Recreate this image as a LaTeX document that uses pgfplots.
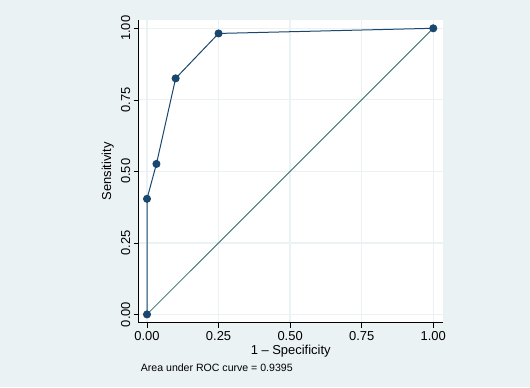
\documentclass[border=0pt]{standalone}
\usepackage{fontspec}
\setmainfont{Liberation Sans}
\usepackage{pgfplots}
\pgfplotsset{compat=1.18}
\definecolor{bgcol}{HTML}{EAF2F3}
\definecolor{navy}{HTML}{1A476F}
\definecolor{tealline}{HTML}{2E6E68}
\begin{document}
\begin{tikzpicture}[x=1bp,y=1bp]
\fill[bgcol] (-138.7,-64.3) rectangle (391.3,322.7);
\begin{axis}[
  at={(0,0)}, anchor=south west,
  scale only axis, width=304bp, height=302.7bp,
  xmin=-0.029, xmax=1.033, ymin=-0.029, ymax=1.029,
  axis background/.style={fill=white},
  axis x line*=bottom, axis y line*=left,
  axis line style={black, line width=0.8bp},
  xtick={0,0.25,0.5,0.75,1}, ytick={0,0.25,0.5,0.75,1},
  /pgf/number format/.cd, fixed, fixed zerofill, precision=2, assume math mode=true, /pgfplots/.cd,
  grid=major, major grid style={color=bgcol, line width=1.3bp},
  tick align=outside, major tick length=5bp,
  tick style={black, line width=0.6bp},
  ticklabel style={font=\fontsize{13}{13}\selectfont},
  yticklabel style={rotate=90, anchor=south},
  label style={font=\fontsize{13}{13}\selectfont},
  xlabel={1 -- Specificity}, ylabel={Sensitivity},
  xlabel style={at={(axis description cs:0.5,-0.1034)}, anchor=base},
  ylabel style={at={(axis description cs:-0.0911,0.5)}, anchor=base},
  clip=false,
]
\addplot[tealline, line width=0.8bp] coordinates {(0,0) (1,1)};
\addplot[navy, line width=1bp, mark=*, mark size=3.5bp, mark options={fill=navy, draw=navy}]
  coordinates {(0,0) (0,0.404) (0.033,0.526) (0.1,0.825) (0.25,0.982) (1,1)};
\end{axis}
\node[anchor=base west, inner sep=0pt, font=\fontsize{10.6}{10.6}\selectfont] at (2,-49) {Area under ROC curve = 0.9395};
\end{tikzpicture}
\end{document}
